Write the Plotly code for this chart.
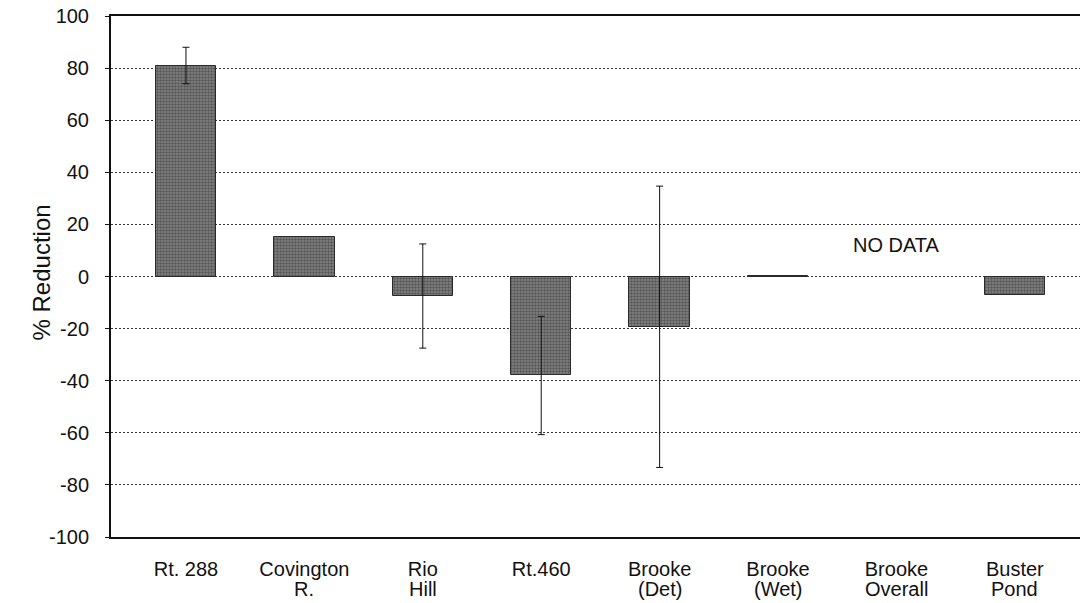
import plotly.graph_objects as go

cat_line1 = ["Rt. 288", "Covington", "Rio", "Rt.460", "Brooke", "Brooke", "Brooke", "Buster"]
cat_line2 = ["", "R.", "Hill", "", "(Det)", "(Wet)", "Overall", "Pond"]
values = [81.0, 15.0, -7.5, -38.0, -19.3, 0.3, None, -7.0]
errors = [7.0, None, 20.0, 22.7, 54.0, None, None, None]
y_ticks = [-100, -80, -60, -40, -20, 0, 20, 40, 60, 80, 100]
y_title = "% Reduction"
no_data_label = "NO DATA"
no_data_index = 6
no_data_y = 12

FONT = "Arial, 'Liberation Sans', sans-serif"

W, H = 1080, 603
L, T = 111, 16
PW, PH = 969, 521

x_idx = list(range(len(cat_line1)))

fig = go.Figure()
fig.add_trace(go.Bar(
    x=x_idx,
    y=values,
    width=0.51,
    marker=dict(
        color="#777777",
        line=dict(color="#2a2a2a", width=1),
        pattern=dict(shape=".", fgcolor="#262626", bgcolor="#858585", size=3, solidity=0.5),
    ),
    showlegend=False,
))

err_x = [i for i, e in enumerate(errors) if e is not None]
err_y = [values[i] for i in err_x]
err_v = [errors[i] for i in err_x]
fig.add_trace(go.Scatter(
    x=err_x, y=err_y, mode="markers",
    marker=dict(size=1, color="rgba(0,0,0,0)"),
    error_y=dict(type="data", array=err_v, visible=True, color="#111111", thickness=1, width=3.5),
    showlegend=False, hoverinfo="skip",
))

fig.add_annotation(x=no_data_index, y=no_data_y, xref="x", yref="y", text=no_data_label,
                   showarrow=False, font=dict(family=FONT, size=20, color="#111111"))

# second line of category labels
for i, t in enumerate(cat_line2):
    if t:
        fig.add_annotation(x=i, y=0, xref="x", yref="paper", yanchor="middle", yshift=-52,
                           text=t, showarrow=False,
                           font=dict(family=FONT, size=20, color="#111111"))

# y-axis title
fig.add_annotation(x=-(111 - 25) / PW, y=(537 - 273) / PH, xref="paper", yref="paper",
                   text=y_title, textangle=-90, showarrow=False,
                   font=dict(family=FONT, size=24, color="#111111"))

fig.update_layout(
    width=W, height=H,
    margin=dict(l=L, r=W - L - PW, t=T, b=H - T - PH, pad=0),
    paper_bgcolor="white", plot_bgcolor="white",
    font=dict(family=FONT, color="#111111"),
    bargap=0,
)
fig.update_xaxes(
    range=[-0.633, 7.55], automargin=False,
    tickmode="array", tickvals=x_idx, ticktext=cat_line1,
    tickfont=dict(family=FONT, size=20, color="#111111"),
    showline=True, linecolor="#111111", linewidth=2, mirror=True,
    showgrid=False, zeroline=False, ticks="", ticklabelstandoff=13,
)
fig.update_yaxes(
    range=[-100, 100], automargin=False,
    tickmode="array", tickvals=y_ticks, ticktext=[str(v) for v in y_ticks],
    tickfont=dict(family=FONT, size=20, color="#111111"),
    ticklabeloverflow="allow",
    showline=True, linecolor="#111111", linewidth=2,
    ticks="outside", ticklen=4, tickcolor="#111111", ticklabelstandoff=12,
    showgrid=True, gridcolor="#333333", gridwidth=1, griddash="2px,2px",
    zeroline=False,
)

fig.write_html("out.html", config={"displayModeBar": False},
               post_script="document.body.style.margin='0';")
